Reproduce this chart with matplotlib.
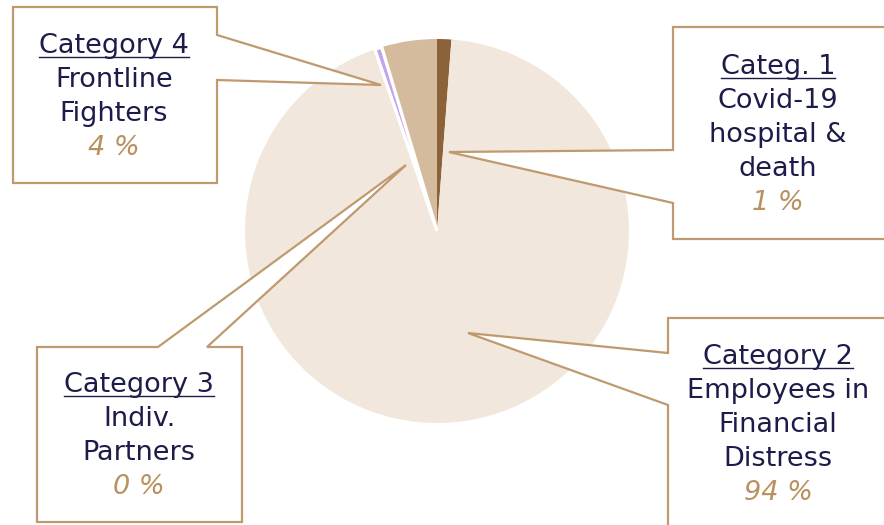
import matplotlib.pyplot as plt
from matplotlib.patches import Polygon
from matplotlib.lines import Line2D

# slice data, clockwise from 12 o'clock
names = ["Category 1", "Category 2", "Category 3", "Category 4"]
values = [1.2, 93.55, 0.6, 4.65]
pct_labels = ["1 %", "94 %", "0 %", "4 %"]
titles = ["Categ. 1", "Category 2", "Category 3", "Category 4"]
descr = [["Covid-19", "hospital &", "death"],
         ["Employees in", "Financial", "Distress"],
         ["Indiv.", "Partners"],
         ["Frontline", "Fighters"]]
colors = ["#8c6239", "#f1e7dd", "#c4a2ec", "#d5bb9d"]

W, H = 884, 525
navy = "#1c1c4a"
gold = "#b8915f"
edge = "#bf9a6e"


def Y(y):
    return H - y


fig = plt.figure(figsize=(W / 100, H / 100), dpi=100)
ax = fig.add_axes([0, 0, 1, 1])

wedges, _ = ax.pie(values, colors=colors, startangle=90, counterclock=False,
                   center=(437, Y(231)), radius=192)
# the 0 % slice gets a white rim
wedges[2].set_edgecolor("white")
wedges[2].set_linewidth(2.4)
wedges[2].set_zorder(3)
wedges[3].set_zorder(2)

ax.set_xlim(0, W)
ax.set_ylim(0, H)
ax.set_aspect("auto")
ax.axis("off")

# callout boxes: (left, top, right, bottom), side of pointer, pointer base, tip
callouts = [
    ((673, 27, 890, 239), "left", (150, 203), (449, 152)),
    ((668, 318, 895, 540), "left", (353, 405), (468, 333)),
    ((37, 347, 242, 522), "top", (158, 207), (406, 165)),
    ((13, 7, 217, 183), "right", (35, 80), (381, 85)),
]
for (l, t, r, b), side, (p1, p2), tip in callouts:
    if side == "left":
        pts = [(l, t), (r, t), (r, b), (l, b), (l, p2), tip, (l, p1)]
    elif side == "right":
        pts = [(l, t), (r, t), (r, p1), tip, (r, p2), (r, b), (l, b)]
    else:
        pts = [(l, t), (p1, t), tip, (p2, t), (r, t), (r, b), (l, b)]
    pts = [(x, Y(y)) for x, y in pts]
    ax.add_patch(Polygon(pts, closed=True, facecolor="white", edgecolor=edge,
                         linewidth=1.6, zorder=5))

# text blocks: centre x, first line y
text_pos = [(778, 67), (778, 357), (139, 385), (114, 46)]
step = 34
fs = 19.5
renderer = fig.canvas.get_renderer()
for i, (cx, y0) in enumerate(text_pos):
    t = ax.text(cx, Y(y0), titles[i], ha="center", va="center", fontsize=fs,
                color=navy, zorder=6)
    bb = t.get_window_extent(renderer=renderer)
    uy = bb.y0 + 2
    ax.add_line(Line2D([bb.x0, bb.x1], [uy, uy], color=navy, linewidth=1.0,
                       zorder=6))
    y = y0
    for line in descr[i]:
        y += step
        ax.text(cx, Y(y), line, ha="center", va="center", fontsize=fs,
                color=navy, zorder=6)
    y += step
    ax.text(cx, Y(y), pct_labels[i], ha="center", va="center", fontsize=fs,
            color=gold, style="italic", zorder=6)

fig.savefig("out.png", dpi=100)
plt.close(fig)
